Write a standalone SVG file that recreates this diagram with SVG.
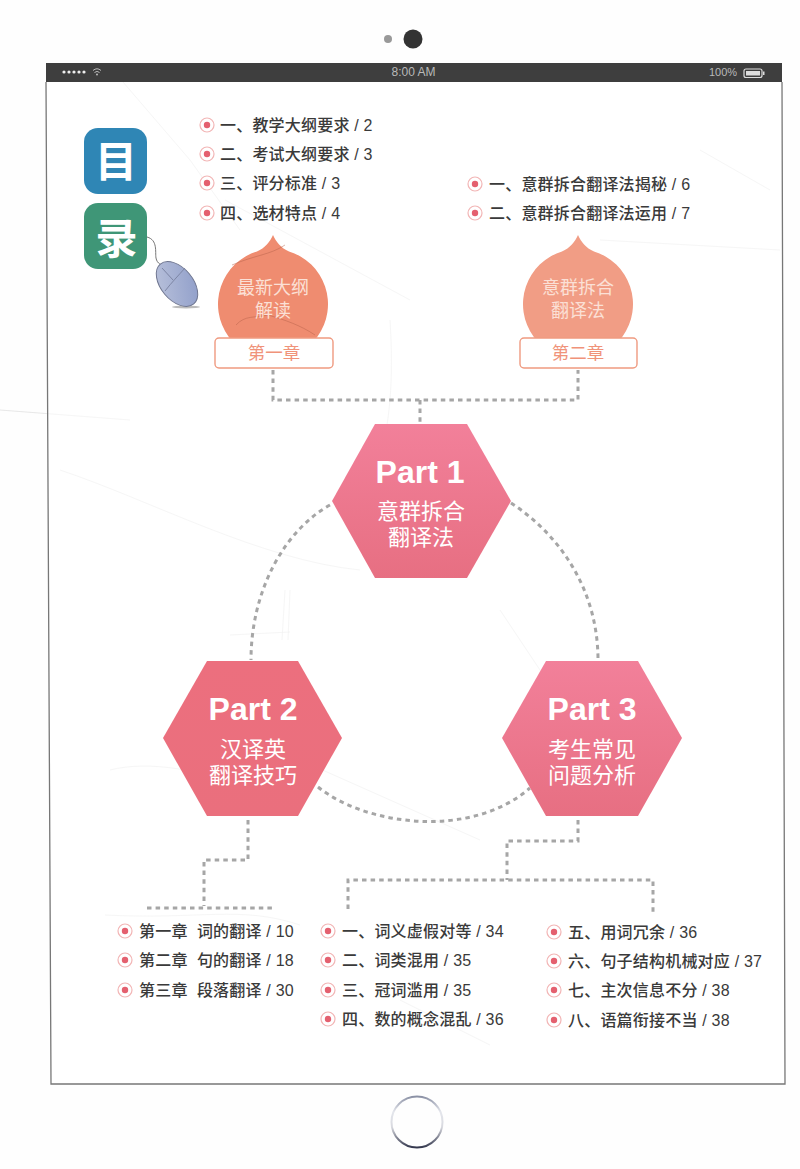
<svg xmlns="http://www.w3.org/2000/svg" width="800" height="1169" viewBox="0 0 800 1169">
<style>
text{font-family:"Liberation Sans","Noto Sans CJK SC",sans-serif}
.li{font-size:16px;letter-spacing:.2px;fill:#3a3a3a;font-weight:500;white-space:pre}
.c{fill:none;stroke:#a6a6a6;stroke-width:3;stroke-dasharray:4.5 4.1}
.bo{fill:#fff;stroke:#f2b5b5;stroke-width:1.2}
.bi{fill:#e4606f}
.pt{font-size:32px;font-weight:700;fill:#fff;text-anchor:middle}
.hz{font-size:22px;fill:#fff;text-anchor:middle}
.dz{font-size:18px;fill:#fbe0d6;text-anchor:middle}
.lb{fill:#fff;stroke:#ef9a80;stroke-width:1.4}
.lz{font-size:17.5px;fill:#f0937a;text-anchor:middle}
.st{font-size:11px;fill:#b9b9b9}
.sc{fill:none;stroke:#d6d6d6;stroke-width:.8;opacity:.7}
.big{font-size:42px;font-weight:700;fill:#fff;text-anchor:middle}
</style>
<defs>
<linearGradient id="h1" x1="0" y1="0" x2="0" y2="1"><stop offset="0" stop-color="#f2809a"/><stop offset="1" stop-color="#e76f82"/></linearGradient>
<linearGradient id="h2" x1="0" y1="0" x2="0" y2="1"><stop offset="0" stop-color="#ec6f7e"/><stop offset="1" stop-color="#ea6f7d"/></linearGradient>
<linearGradient id="ring" x1="0" y1="0" x2="0" y2="1"><stop offset="0" stop-color="#8b91a5"/><stop offset=".3" stop-color="#e4e6ec"/><stop offset=".6" stop-color="#d8d9df"/><stop offset="1" stop-color="#34384e"/></linearGradient>
<linearGradient id="ms" x1="0" y1="0" x2="1" y2="1"><stop offset="0" stop-color="#bcc4dc"/><stop offset="1" stop-color="#8c9bc8"/></linearGradient>
<g id="bul"><circle class="bo" r="7"/><circle class="bi" r="3.200"/></g>
</defs>
<rect width="800" height="1169" fill="#fefefe"/>
<g id="scratches">
<path class="sc" d="M123,82 L190,160 L240,230"/>
<path class="sc" d="M390,320 C395,400 385,430 385,440"/>
<path class="sc" d="M60,470 C150,500 260,560 360,570"/>
<path class="sc" d="M225,200 L410,300"/>
<path class="sc" d="M285,590 L282,640 M290,590 L288,640"/>
<path class="sc" d="M230,635 L290,632 M500,610 L560,700"/>
<path class="sc" d="M0,410 L130,420 M600,240 L780,250 M700,150 L770,190"/>
<path class="sc" d="M110,770 C150,760 200,770 260,790 M480,840 L300,760"/>
<path class="sc" d="M105,915 C200,920 240,905 300,925 M400,1000 L490,1045"/>
</g>
<g id="device">
<circle cx="388" cy="39" r="4" fill="#999"/>
<circle cx="413" cy="39" r="9.500" fill="#333"/>
<path d="M46,82 L51,1084 L785,1084 L782,82" fill="#fff" fill-opacity=".6" stroke="#777" stroke-width="1.300"/>
<rect x="46" y="63" width="736" height="19" fill="#3e3e3e"/>
<g fill="#eee"><circle cx="64" cy="72" r="1.600"/><circle cx="69" cy="72" r="1.600"/><circle cx="74" cy="72" r="1.600"/><circle cx="79" cy="72" r="1.600"/><circle cx="84" cy="72" r="1.600"/></g>
<path d="M93,70.500 Q97,67 101,70.500 M94.500,72.500 Q97,70.300 99.500,72.500" fill="none" stroke="#bbb" stroke-width="1"/><circle cx="97" cy="74.500" r="1" fill="#bbb"/>
<text class="st" x="413.500" y="76" text-anchor="middle" style="font-size:12px">8:00 AM</text>
<text class="st" x="709" y="76">100%</text>
<rect x="744" y="69" width="18" height="8.500" rx="2" fill="none" stroke="#ddd" stroke-width="1.200"/>
<rect x="746" y="71" width="14" height="4.500" fill="#ddd"/>
<rect x="763" y="71.500" width="1.500" height="3.500" fill="#ddd"/>
<circle cx="417" cy="1122" r="25.500" fill="none" stroke="url(#ring)" stroke-width="2"/>
</g>
<g id="connectors">
<path class="c" d="M273,370 V400 H578 V370"/>
<path class="c" d="M420,400 V423"/>
<path class="c" d="M330,505 C285,530 251,590 251,660"/>
<path class="c" d="M511,503 C560,535 598,590 598,660"/>
<path class="c" d="M318,787 C365,825 470,840 530,788"/>
<path class="c" d="M248,820 V860 H204 V906"/>
<path class="c" d="M147,908 H276"/>
<path class="c" d="M578,820 V841 H507 V880"/>
<path class="c" d="M348,909 V880 H653 V912"/>
</g>
<g id="title-mu"><rect x="84" y="128" width="63" height="66" rx="14" fill="#2f86b5"/><text class="big" x="116" y="177">目</text></g>
<g id="title-lu"><rect x="84" y="203" width="63" height="66" rx="14" fill="#3f9677"/><text class="big" x="116.500" y="254">录</text></g>
<g id="mouse">
<path d="M147,237 C158,240 155,252 156,258 C157,264 162,265 166,268" fill="none" stroke="#666" stroke-width=".9"/>
<ellipse cx="186" cy="307" rx="14" ry="1.500" fill="#bbb"/>
<ellipse cx="177" cy="284" rx="16" ry="26" transform="rotate(-40 177 284)" fill="url(#ms)" stroke="#6f7690" stroke-width="1"/>
<path d="M165,291 C172,282 178,276 185,268 M173,280 L162,268" fill="none" stroke="#7d86a5" stroke-width="1"/>
</g>
<g id="list-a">
<use href="#bul" x="207" y="125"/><text class="li" x="220" y="131">一、教学大纲要求 / 2</text>
<use href="#bul" x="207" y="154"/><text class="li" x="220" y="160">二、考试大纲要求 / 3</text>
<use href="#bul" x="207" y="183"/><text class="li" x="220" y="189">三、评分标准 / 3</text>
<use href="#bul" x="207" y="213"/><text class="li" x="220" y="219">四、选材特点 / 4</text>
</g>
<g id="list-b">
<use href="#bul" x="475" y="184"/><text class="li" x="489" y="190">一、意群拆合翻译法揭秘 / 6</text>
<use href="#bul" x="475" y="213"/><text class="li" x="489" y="219">二、意群拆合翻译法运用 / 7</text>
</g>
<g id="chapter-1">
<path d="M273,235 C276,242 281,248 289,251.500 A55,55 0 1 1 257,251.500 C265,248 270,242 273,235Z" fill="#ef8c70"/>
<path d="M232,265 C255,255 270,255 285,245 M236,325 C245,315 255,318 268,315 C285,320 300,325 315,335" fill="none" stroke="#b5604a" stroke-width=".8" opacity=".6"/>
<text class="dz" x="273" y="294">最新大纲</text><text class="dz" x="273" y="317">解读</text>
<rect class="lb" x="215" y="338" width="118" height="30" rx="4"/>
<text class="lz" x="274" y="359">第一章</text>
</g>
<g id="chapter-2">
<path d="M578,235 C581,242 586,248 594,251.500 A55,55 0 1 1 562,251.500 C570,248 575,242 578,235Z" fill="#f19d85"/>
<text class="dz" x="578" y="294">意群拆合</text><text class="dz" x="578" y="317">翻译法</text>
<rect class="lb" x="520" y="338" width="117" height="30" rx="4"/>
<text class="lz" x="578" y="359">第二章</text>
</g>
<g id="part-1">
<polygon points="375,424 467,424 511,501 467,578 375,578 332,501" fill="url(#h1)"/>
<text class="pt" x="420" y="483">Part 1</text>
<text class="hz" x="421" y="519">意群拆合</text><text class="hz" x="421" y="545">翻译法</text>
</g>
<g id="part-2">
<polygon points="207,661 298,661 342,738 298,816 207,816 163,738" fill="url(#h2)"/>
<text class="pt" x="253" y="720">Part 2</text>
<text class="hz" x="253" y="757">汉译英</text><text class="hz" x="253" y="783">翻译技巧</text>
</g>
<g id="part-3">
<polygon points="546,661 638,661 682,738 638,816 546,816 502,738" fill="url(#h1)"/>
<text class="pt" x="592" y="720">Part 3</text>
<text class="hz" x="592" y="757">考生常见</text><text class="hz" x="592" y="783">问题分析</text>
</g>
<g id="list-c">
<use href="#bul" x="125" y="931"/><text class="li" x="139" y="937">第一章  词的翻译 / 10</text>
<use href="#bul" x="125" y="960"/><text class="li" x="139" y="966">第二章  句的翻译 / 18</text>
<use href="#bul" x="125" y="990"/><text class="li" x="139" y="996">第三章  段落翻译 / 30</text>
</g>
<g id="list-d">
<use href="#bul" x="328" y="931"/><text class="li" x="342" y="937">一、词义虚假对等 / 34</text>
<use href="#bul" x="328" y="960"/><text class="li" x="342" y="966">二、词类混用 / 35</text>
<use href="#bul" x="328" y="990"/><text class="li" x="342" y="996">三、冠词滥用 / 35</text>
<use href="#bul" x="328" y="1019"/><text class="li" x="342" y="1025">四、数的概念混乱 / 36</text>
</g>
<g id="list-e">
<use href="#bul" x="554" y="932"/><text class="li" x="568" y="938">五、用词冗余 / 36</text>
<use href="#bul" x="554" y="961"/><text class="li" x="568" y="967">六、句子结构机械对应 / 37</text>
<use href="#bul" x="554" y="990"/><text class="li" x="568" y="996">七、主次信息不分 / 38</text>
<use href="#bul" x="554" y="1020"/><text class="li" x="568" y="1026">八、语篇衔接不当 / 38</text>
</g>
</svg>
